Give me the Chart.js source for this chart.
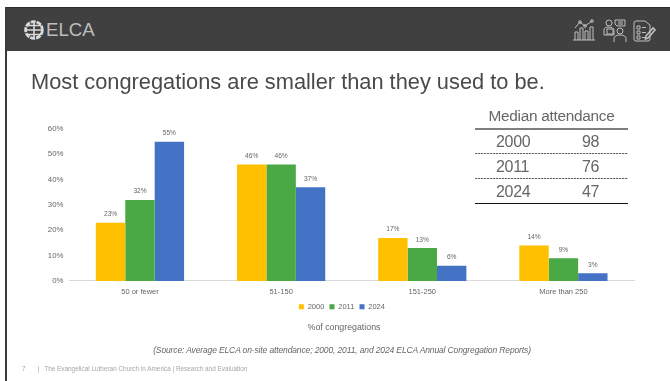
<!DOCTYPE html>
<html>
<head>
<meta charset="utf-8">
<script src="https://cdn.jsdelivr.net/npm/chart.js@4"></script>
<style>
  html, body { margin: 0; padding: 0; background: #fff; }
  body { width: 670px; height: 381px; position: relative; overflow: hidden; font-family: "Liberation Sans", Arial, sans-serif; }
  #frame { position: absolute; left: 5px; top: 7px; width: 2px; height: 374px; background: #3a3a3a; }
  #band { position: absolute; left: 5px; top: 7px; width: 665px; height: 44px; background: #404040; border-top: 1px solid #2e2e2e; box-sizing: border-box; }
  #brand { position: absolute; left: 46px; top: 19px; font-size: 18.6px; color: #bdbdbd; font-weight: normal; line-height: 22px; }
  svg.ico { position: absolute; fill: none; stroke: #bfbfbf; stroke-width: 1; }
  h1 { position: absolute; left: 31px; top: 68px; margin: 0; font-size: 21.8px; font-weight: normal; color: #4a4a4a; line-height: 28px; white-space: nowrap; }
  #wrap { position: absolute; left: 0; top: 0; width: 670px; height: 381px; }
  .t { position: absolute; color: #666; white-space: nowrap; }
  #medHead { left: 475px; width: 153px; text-align: center; top: 107px; font-size: 15.4px; line-height: 18px; letter-spacing: -0.3px; }
  .rule { position: absolute; left: 475px; width: 153px; }
  #source { left: 0; width: 684px; text-align: center; top: 344px; font-size: 8.5px; font-style: italic; line-height: 12px; letter-spacing: -0.13px; }
  #foot { left: 22px; top: 365px; font-size: 6.4px; line-height: 8px; color: #a6a6a6; }
</style>
</head>
<body>
<div id="wrap"><canvas id="chart" width="670" height="381"></canvas></div>

<div id="band"></div>
<div id="frame"></div>

<!-- logo globe -->
<svg class="ico" style="left:24px;top:20px;stroke:#d9d9d9" width="20" height="20" viewBox="0 0 20 20">
  <circle cx="10" cy="10" r="8.4" stroke-width="2.8" stroke-dasharray="5 1"/>
  <path d="M10 1V19M1 10H19M3 5.5H17M3 14.5H17" stroke-width="1.6"/>
</svg>
<div id="brand">ELCA</div>

<!-- header icons: chart, presenter, checklist -->
<svg class="ico" style="left:572px;top:18px" width="24" height="24" viewBox="0 0 24 24">
  <path d="M1 22H23M3 22V14H6V22M8 22V10H11V22M13 22V13H16V22M18 22V9H21V22"/>
  <path d="M3 10L8 4L13 8L20 3"/><circle cx="8" cy="4" r="1.3"/><circle cx="13" cy="8" r="1.3"/><circle cx="20" cy="3" r="1.3"/>
</svg>
<svg class="ico" style="left:602px;top:18px" width="26" height="25" viewBox="0 0 26 25">
  <circle cx="7" cy="5" r="3"/><path d="M2 17V12Q2 9 7 9Q11 9 12 12V17H2Z"/><rect x="5" y="11" width="6" height="5"/>
  <path d="M13 2H23V8H15L13 6Z"/><path d="M16 4H21M16 6H21"/>
  <circle cx="18" cy="13" r="3"/><path d="M12 24V21Q12 17 18 17Q24 17 24 21V24"/>
</svg>
<svg class="ico" style="left:633px;top:20px" width="23" height="22" viewBox="0 0 23 22">
  <path d="M1 3Q1 1 3 1H12L17 5V19Q17 21 15 21H3Q1 21 1 19Z"/>
  <path d="M4 6H7V9H4ZM4 11H7V14H4ZM4 16H7V19H4ZM9 7.5H13M9 12.5H13M9 17.5H12"/>
  <path d="M13 16L20 8L22 10L15 18L12.5 19Z" stroke-width="1.6"/>
</svg>

<h1>Most congregations are smaller than they used to be.</h1>

<div class="t" id="medHead">Median attendance</div>
<div id="medRows"></div>

<div class="t" id="source">(Source: Average ELCA on-site attendance; 2000, 2011, and 2024 ELCA Annual Congregation Reports)</div>
<div class="t" id="foot">7<span style="margin-left:12px">|</span><span style="margin-left:5px">The Evangelical Lutheran Church in America | Research and Evaluation</span></div>

<script>
const categories = ['50 or fewer', '51-150', '151-250', 'More than 250'];
const seriesNames = ['2000', '2011', '2024'];
const values2000 = [23, 46, 17, 14];
const values2011 = [32, 46, 13, 9];
const values2024 = [55, 37, 6, 3];
const seriesColors = ['#ffc000', '#4aa945', '#4472c4'];
const medianYears = ['2000', '2011', '2024'];
const medianAttendance = [98, 76, 47];

// small table next to the chart
const rows = document.getElementById('medRows');
function addRule(top, css) {
  const r = document.createElement('div');
  r.className = 'rule';
  r.style.cssText = 'top:' + top + 'px;' + css;
  rows.appendChild(r);
}
addRule(128, 'border-top:2px solid #7f7f7f');
medianYears.forEach((yr, i) => {
  const top = 132 + i * 25;
  const a = document.createElement('div');
  a.className = 't';
  a.style.cssText = 'left:496px;top:' + top + 'px;font-size:16px;line-height:20px;letter-spacing:-0.3px';
  a.textContent = yr;
  const b = document.createElement('div');
  b.className = 't';
  b.style.cssText = 'left:582px;top:' + top + 'px;font-size:16px;line-height:20px;letter-spacing:-0.3px';
  b.textContent = medianAttendance[i];
  rows.appendChild(a);
  rows.appendChild(b);
  if (i < 2) addRule(153 + i * 25, 'height:1px;background:repeating-linear-gradient(90deg,#666 0 2px,#ccc 2px 3px)');
});
addRule(203, 'border-top:1px solid #111');

// Chart.js has no built in value labels, so draw them after the bars
const barValueLabels = {
  id: 'barValueLabels',
  afterDatasetsDraw(chart) {
    const ctx = chart.ctx;
    ctx.save();
    ctx.font = '6.6px "Liberation Sans"';
    ctx.fillStyle = '#666';
    ctx.textAlign = 'center';
    ctx.textBaseline = 'bottom';
    chart.data.datasets.forEach((ds, i) => {
      chart.getDatasetMeta(i).data.forEach((bar, j) => {
        ctx.fillText(ds.data[j] + '%', bar.x, bar.y - 5);
      });
    });
    ctx.restore();
  }
};

// the y axis box is kept narrow so the legend centres further right,
// widen it afterwards or its tick labels get clipped
const widenTickArea = {
  id: 'widenTickArea',
  afterLayout(chart) {
    chart.scales.y.left = 30;
  }
};

// labels.padding also sets the legend height, so space the entries with nbsp
const legendText = name => name + '\u00a0\u00a0';

new Chart(document.getElementById('chart'), {
  type: 'bar',
  data: {
    labels: categories,
    datasets: [
      { label: legendText(seriesNames[0]), data: values2000, backgroundColor: seriesColors[0] },
      { label: legendText(seriesNames[1]), data: values2011, backgroundColor: seriesColors[1] },
      { label: legendText(seriesNames[2]), data: values2024, backgroundColor: seriesColors[2] }
    ]
  },
  options: {
    responsive: false,
    animation: false,
    layout: { padding: { left: 54, right: 36, top: 129, bottom: 48 } },
    datasets: { bar: { categoryPercentage: 0.625, barPercentage: 1 } },
    scales: {
      x: {
        grid: { display: false, drawTicks: false },
        border: { color: '#d9d9d9', width: 1 },
        ticks: { color: '#666', font: { family: 'Liberation Sans', size: 7.5 }, padding: 6 }
      },
      y: {
        min: 0,
        max: 60,
        grid: { display: false, drawTicks: false },
        border: { display: false },
        afterFit(axis) { axis.width = 15.4; },
        ticks: {
          stepSize: 10,
          color: '#666',
          font: { family: 'Liberation Sans', size: 7.8 },
          padding: 6,
          callback: v => v + '%'
        }
      }
    },
    plugins: {
      legend: {
        position: 'bottom',
        labels: { boxWidth: 5, boxHeight: 5, color: '#666', font: { family: 'Liberation Sans', size: 7.5 }, padding: 1 }
      },
      title: {
        display: true,
        position: 'bottom',
        text: '%of congregations',
        color: '#666',
        font: { family: 'Liberation Sans', size: 8.8, weight: 'normal' },
        padding: { top: 2, bottom: 0 }
      },
      tooltip: { enabled: false }
    }
  },
  plugins: [barValueLabels, widenTickArea]
});
</script>
</body>
</html>
